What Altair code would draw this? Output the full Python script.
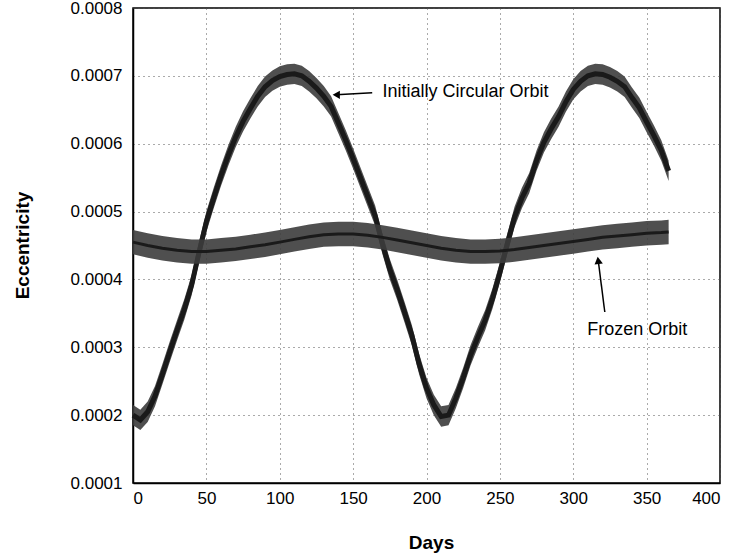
import altair as alt
import pandas as pd

# ---- data ----
circ_days = list(range(0, 366, 5))
circ_ecc = [
    0.000200, 0.000193, 0.000205, 0.000228, 0.000260, 0.000293, 0.000325, 0.000356,
    0.000392, 0.000440, 0.000485, 0.000520, 0.000553, 0.000583, 0.000610, 0.000633,
    0.000652, 0.000670, 0.000684, 0.000693, 0.000699, 0.000702, 0.000703, 0.000700,
    0.000692, 0.000682, 0.000670, 0.000655, 0.000630, 0.000605, 0.000578, 0.000550,
    0.000522, 0.000494, 0.000452, 0.000415, 0.000385, 0.000352, 0.000318, 0.000275,
    0.000240, 0.000215, 0.000198, 0.000200, 0.000225, 0.000255, 0.000288, 0.000315,
    0.000340, 0.000372, 0.000410, 0.000452, 0.000492, 0.000520, 0.000542, 0.000575,
    0.000602, 0.000622, 0.000640, 0.000662, 0.000680, 0.000692, 0.000700, 0.000703,
    0.000702, 0.000698, 0.000692, 0.000684, 0.000668, 0.000653, 0.000632, 0.000612,
    0.000590, 0.000560,
]
circ_spread = 0.000015  # half-height of the oscillation band

frozen_days = [0, 10, 20, 30, 40, 50, 60, 70, 80, 90, 100, 110, 120, 130, 140, 150,
               160, 170, 180, 190, 200, 210, 220, 230, 240, 250, 260, 270, 280, 290,
               300, 310, 320, 330, 340, 350, 360, 365]
frozen_ecc = [
    0.000455, 0.000450, 0.000446, 0.000443, 0.000441, 0.000441, 0.000443, 0.000445,
    0.000448, 0.000451, 0.000455, 0.000459, 0.000463, 0.000466, 0.000467, 0.000467,
    0.000465, 0.000462, 0.000458, 0.000454, 0.000450, 0.000446, 0.000443, 0.000441,
    0.000441, 0.000442, 0.000444, 0.000447, 0.000450, 0.000453, 0.000456, 0.000459,
    0.000462, 0.000464, 0.000466, 0.000468, 0.000469, 0.000470,
]
frozen_spread = 0.000018

x_ticks = [0, 50, 100, 150, 200, 250, 300, 350, 400]
y_ticks = [0.0001, 0.0002, 0.0003, 0.0004, 0.0005, 0.0006, 0.0007, 0.0008]

labels = ["Initially Circular Orbit", "Frozen Orbit"]
label_day = [170.0, 309.5]
label_ecc = [0.000676, 0.000325]
arrow_tail_day = [163.0, 321.5]
arrow_tail_ecc = [0.000675, 0.000352]
arrow_tip_day = [138.5, 317.0]
arrow_tip_ecc = [0.000672, 0.000428]
arrow_head_angle = [270, 352]

# ---- tables ----
circ = pd.DataFrame({"day": circ_days, "ecc": circ_ecc})
circ["lo"] = circ["ecc"] - circ_spread
circ["hi"] = circ["ecc"] + circ_spread
frozen = pd.DataFrame({"day": frozen_days, "ecc": frozen_ecc})
frozen["lo"] = frozen["ecc"] - frozen_spread
frozen["hi"] = frozen["ecc"] + frozen_spread

ann = pd.DataFrame({"label": labels, "lday": label_day, "lecc": label_ecc})
arr = pd.DataFrame({"tday": arrow_tail_day, "tecc": arrow_tail_ecc,
                    "hday": arrow_tip_day, "hecc": arrow_tip_ecc,
                    "ang": arrow_head_angle})

FONT = "Liberation Sans"
xs = alt.Scale(domain=[0, 400], nice=False)
ys = alt.Scale(domain=[0.0001, 0.0008], nice=False)

x_axis = alt.Axis(values=x_ticks, format="d", title="Days", grid=True,
                  gridDash=[1, 4], gridColor="#555", gridWidth=1,
                  ticks=False, labelPadding=7, labelFontSize=17, labelFont=FONT,
                  labelColor="black", domainColor="black", domainWidth=1.5,
                  titleFont=FONT, titleFontSize=19, titleFontWeight="bold",
                  titleColor="black", titleX=298, titleY=59,
                  titleBaseline="middle", titleAlign="center")
y_axis = alt.Axis(values=y_ticks, format=".4f", title="Eccentricity", grid=True,
                  gridDash=[1, 4], gridColor="#555", gridWidth=1,
                  ticks=False, labelPadding=11, labelFontSize=17, labelFont=FONT,
                  labelColor="black", domainColor="black", domainWidth=1.5,
                  titleFont=FONT, titleFontSize=19, titleFontWeight="bold",
                  titleColor="black", titleAngle=270, titleX=-111, titleY=237,
                  titleBaseline="middle", titleAlign="center")

base_x = alt.X("day:Q", scale=xs, axis=x_axis)

circ_band = alt.Chart(circ).mark_area(color="#3c3c3c", opacity=0.9).encode(
    x=base_x, y=alt.Y("lo:Q", scale=ys, axis=y_axis), y2="hi:Q")
circ_line = alt.Chart(circ).mark_line(color="#1a1a1a", strokeWidth=5).encode(
    x="day:Q", y="ecc:Q")
frozen_band = alt.Chart(frozen).mark_area(color="#3c3c3c", opacity=0.9).encode(
    x="day:Q", y="lo:Q", y2="hi:Q")
frozen_line = alt.Chart(frozen).mark_line(color="#1a1a1a", strokeWidth=3).encode(
    x="day:Q", y="ecc:Q")

arrows = alt.Chart(arr).mark_rule(color="black", strokeWidth=1.5).encode(
    x="tday:Q", y="tecc:Q", x2="hday:Q", y2="hecc:Q")
heads = alt.Chart(arr).mark_point(shape="triangle-up", filled=True, color="black",
                                  size=70, opacity=1).encode(
    x="hday:Q", y="hecc:Q", angle=alt.Angle("ang:Q", scale=None))
texts = alt.Chart(ann).mark_text(font=FONT, fontSize=18, color="black",
                                 align="left", baseline="middle").encode(
    x="lday:Q", y="lecc:Q", text="label:N")

chart = alt.layer(circ_band, circ_line, frozen_band, frozen_line, arrows, heads, texts).properties(
    width=587, height=475,
    autosize=alt.AutoSizeParams(type="none"),
    padding={"left": 133, "top": 8, "right": 20, "bottom": 74},
    background="white",
).configure_view(stroke="black", strokeWidth=1.5)

chart.save("out.html", embed_options={"renderer": "svg", "actions": False})
